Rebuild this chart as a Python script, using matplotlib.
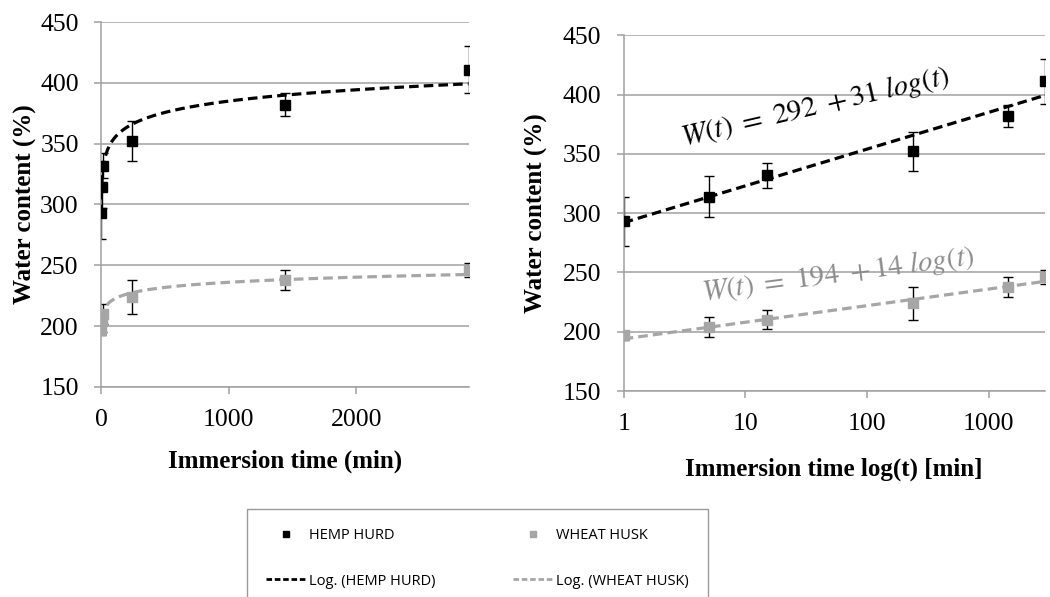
import numpy as np
import matplotlib
matplotlib.use('Agg')
import matplotlib.pyplot as plt
from matplotlib.lines import Line2D

plt.rcParams['mathtext.fontset'] = 'stix'

# Immersion times (min) and measured water content (%)
time_min = [1, 5, 15, 240, 1440, 2880]
hemp = [293, 314, 332, 352, 382, 411]
hemp_err = [21, 17, 10.5, 16.5, 9.5, 19]
wheat = [197, 204, 210, 224, 238, 246]
wheat_err = [4, 8.5, 8, 14, 8.5, 6]

# Logarithmic trendlines W(t) = a + b log(t)
hemp_fit = [292, 31]
wheat_fit = [194, 14]

black = '#000000'
grey = '#a6a6a6'
grid_grey = '#a0a0a0'
serif = 'Liberation Serif'

fig = plt.figure(figsize=(10.5, 5.97), dpi=100)
ax1 = fig.add_axes([0.0962, 0.352, 0.350, 0.611])
ax2 = fig.add_axes([0.594, 0.345, 0.401, 0.596])

t_line = np.logspace(0, np.log10(time_min[-1]), 300)


def style_axis(ax, ylabelpad):
    ax.set_ylim(150, 450)
    ax.set_yticks([150, 200, 250, 300, 350, 400, 450])
    ax.grid(axis='y', color=grid_grey, linewidth=1.1)
    ax.set_axisbelow(True)
    for side in ['top', 'right']:
        ax.spines[side].set_visible(False)
    for side in ['left', 'bottom']:
        ax.spines[side].set_color(grid_grey)
        ax.spines[side].set_linewidth(1.1)
    ax.tick_params(colors=grid_grey, length=5, width=1.1, labelcolor='black',
                   labelsize=18.5, pad=11)
    for lab in ax.get_xticklabels() + ax.get_yticklabels():
        lab.set_fontfamily(serif)
    ax.set_ylabel('Water content (%)', fontsize=18, fontweight='bold',
                  family=serif, labelpad=ylabelpad)


for ax in (ax1, ax2):
    ax.errorbar(time_min, hemp, yerr=hemp_err, fmt='none', ecolor=black,
                elinewidth=1.0, capsize=3.6, capthick=1.0, zorder=2)
    ax.errorbar(time_min, wheat, yerr=wheat_err, fmt='none', ecolor=black,
                elinewidth=1.0, capsize=3.6, capthick=1.0, zorder=2)
    ax.plot(time_min, hemp, 's', color=black, markersize=7, zorder=3)
    ax.plot(time_min, wheat, 's', color=grey, markersize=7, zorder=3)
    ax.plot(t_line, hemp_fit[0] + hemp_fit[1] * np.log10(t_line), color=black,
            linewidth=2.3, dashes=(3, 1.6), zorder=4)
    ax.plot(t_line, wheat_fit[0] + wheat_fit[1] * np.log10(t_line), color=grey,
            linewidth=2.3, dashes=(3, 1.6), zorder=4)

# Left: linear time axis
ax1.set_xlim(0, 2880)
ax1.set_xticks([0, 1000, 2000])
style_axis(ax1, 2)
ax1.set_xlabel('Immersion time (min)', fontsize=18, fontweight='bold',
               family=serif, labelpad=13)

# Right: log time axis
ax2.set_xscale('log')
ax2.set_xlim(1, 2880)
ax2.set_xticks([1, 10, 100, 1000])
ax2.set_xticklabels(['1', '10', '100', '1000'])
ax2.minorticks_off()
style_axis(ax2, 11)
ax2.set_xlabel('Immersion time log(t) [min]', fontsize=18, fontweight='bold',
               family=serif, labelpad=16)

ax2.text(3.1, 357, r'$\mathit{W(t)\ =\ 292\ +31\ log(t)}$', fontsize=21,
         color=black, rotation=13, rotation_mode='anchor',
         ha='left', va='baseline')
ax2.text(4.45, 227, r'$\mathit{W(t)\ =\ 194\ +14\ log(t)}$', fontsize=21,
         color='#8c8c8c', rotation=7.5, rotation_mode='anchor',
         ha='left', va='baseline')

handles = [
    Line2D([], [], marker='s', color=black, linestyle='none', markersize=5),
    Line2D([], [], color=black, linewidth=2, dashes=(2, 1)),
    Line2D([], [], marker='s', color=grey, linestyle='none', markersize=5),
    Line2D([], [], color=grey, linewidth=2, dashes=(2, 1)),
]
labels = ['HEMP HURD', 'Log. (HEMP HURD)', 'WHEAT HUSK', 'Log. (WHEAT HUSK)']
top = 1 - 509 / 597
leg = fig.legend(handles, labels, loc='upper left', ncol=2,
                 bbox_to_anchor=(247 / 1050, -0.2, 461 / 1050, top + 0.2),
                 mode='expand', prop={'family': 'Open Sans', 'size': 10.5},
                 labelspacing=2.1, handlelength=2.7, handletextpad=0.25,
                 borderpad=1.3, borderaxespad=0, fancybox=False, framealpha=1)
leg.get_frame().set_edgecolor('#9a9a9a')
leg.get_frame().set_linewidth(1.0)

fig.savefig('out.png', dpi=100)
